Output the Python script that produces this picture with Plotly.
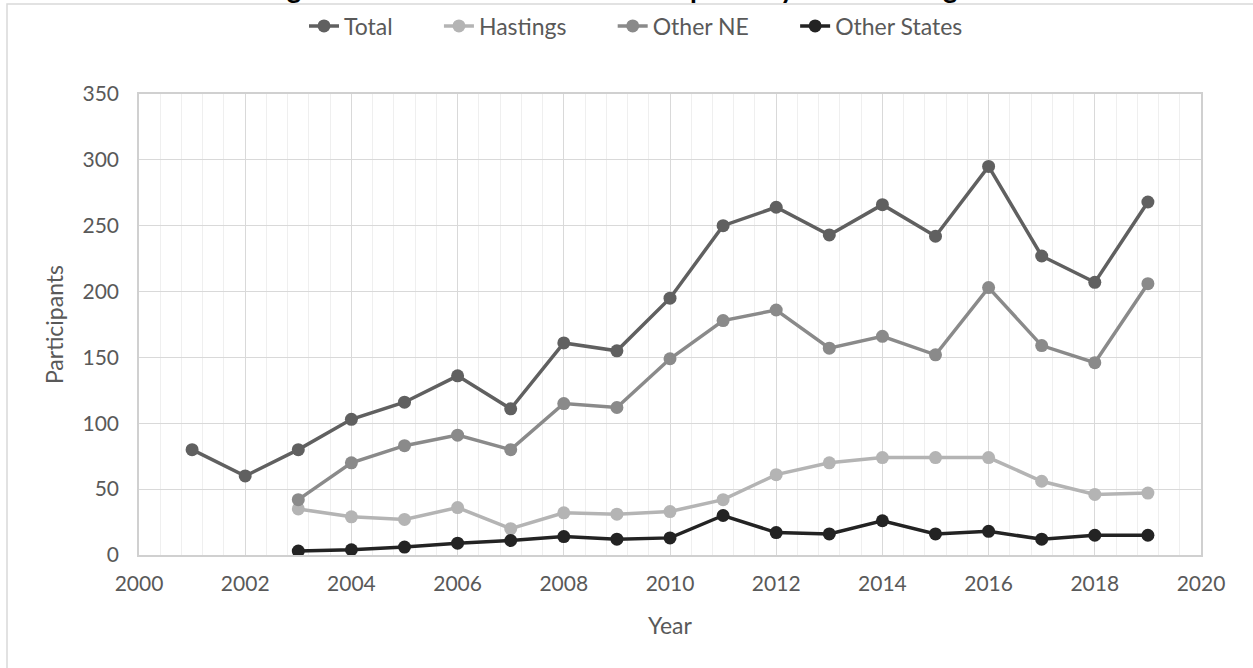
import plotly.graph_objects as go

years_total = [2001, 2002, 2003, 2004, 2005, 2006, 2007, 2008, 2009, 2010,
               2011, 2012, 2013, 2014, 2015, 2016, 2017, 2018, 2019]
total = [80, 60, 80, 103, 116, 136, 111, 161, 155, 195,
         250, 264, 243, 266, 242, 295, 227, 207, 268]

years_sub = [2003, 2004, 2005, 2006, 2007, 2008, 2009, 2010,
             2011, 2012, 2013, 2014, 2015, 2016, 2017, 2018, 2019]
hastings = [35, 29, 27, 36, 20, 32, 31, 33, 42, 61, 70, 74, 74, 74, 56, 46, 47]
other_ne = [42, 70, 83, 91, 80, 115, 112, 149, 178, 186, 157, 166, 152, 203, 159, 146, 206]
other_states = [3, 4, 6, 9, 11, 14, 12, 13, 30, 17, 16, 26, 16, 18, 12, 15, 15]

series_names = ["Total", "Hastings", "Other NE", "Other States"]
title_text = "Figure 1. Annual Number of Participants by State of Origin"

FONT = "Lato, Carlito, Calibri, sans-serif"
TXT = "#595959"
PAD = "&nbsp;" * 7

fig = go.Figure()
series = [
    (series_names[0], years_total, total, "#606060"),
    (series_names[1], years_sub, hastings, "#b4b4b4"),
    (series_names[2], years_sub, other_ne, "#8a8a8a"),
    (series_names[3], years_sub, other_states, "#232323"),
]
for i, (name, x, y, c) in enumerate(series):
    fig.add_trace(go.Scatter(
        x=x, y=y, name=name + (PAD if i < 3 else ""), mode="lines+markers",
        line=dict(color=c, width=3.5),
        marker=dict(color=c, size=13),
    ))

W, H = 1253, 668
L, R, T, B = 139, 52, 94, 113
pw, ph = W - L - R, H - T - B

fig.update_layout(
    width=W, height=H,
    margin=dict(l=L, r=R, t=T, b=B),
    paper_bgcolor="white", plot_bgcolor="white",
    font=dict(family=FONT, size=21, color=TXT),
    showlegend=True,
    legend=dict(orientation="h", xref="container", x=636 / W, xanchor="center",
                yref="container", y=1 - 26 / H, yanchor="middle",
                font=dict(size=23, color=TXT), itemwidth=30,
                bgcolor="rgba(0,0,0,0)"),
    xaxis=dict(range=[2000, 2020], dtick=2, tick0=2000,
               showgrid=True, gridcolor="#d9d9d9", gridwidth=1.3,
               minor=dict(dtick=0.4, showgrid=True, gridcolor="#efefef", gridwidth=1),
               showline=True, linecolor="#d0d0d0", linewidth=1.5, mirror=True,
               ticks="", zeroline=False, ticklabelstandoff=9,
               title=dict(text="Year", font=dict(size=23, color=TXT), standoff=24),
               tickfont=dict(size=21, color=TXT)),
    yaxis=dict(range=[0, 350], dtick=50,
               showgrid=True, gridcolor="#d9d9d9", gridwidth=1.3,
               showline=True, linecolor="#d0d0d0", linewidth=1.5, mirror=True,
               ticks="", zeroline=False, ticklabelstandoff=14,
               title=dict(text="Participants", font=dict(size=23, color=TXT), standoff=12),
               tickfont=dict(size=21, color=TXT)),
)

# chart-area frame (left and top edges visible, others beyond the window)
fig.add_shape(type="rect", xref="paper", yref="paper",
              x0=(7 - L) / pw, x1=(W + 20 - L) / pw,
              y0=(H - B - (H + 20)) / ph, y1=(H - B - 4) / ph,
              line=dict(color="#d9d9d9", width=1.5), fillcolor="rgba(0,0,0,0)",
              layer="below")

# title, mostly cut off above the top of the window (as in the reference)
fig.add_annotation(text="<b>" + title_text + "</b>", xref="paper", yref="paper",
                   x=(622 - L) / pw, xanchor="center",
                   y=(H - B - 6.3) / ph, yanchor="bottom", showarrow=False,
                   font=dict(family=FONT, size=27.8, color="black"))

fig.write_html("out.html")
